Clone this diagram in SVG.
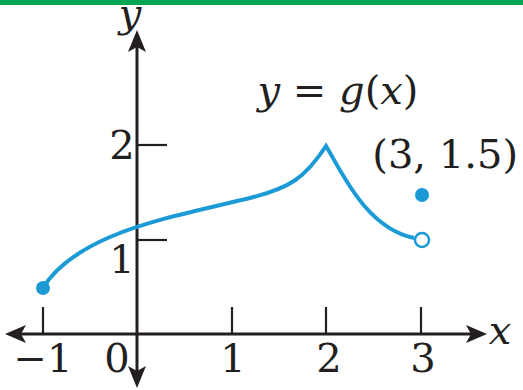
<svg xmlns="http://www.w3.org/2000/svg" width="523" height="390" viewBox="0 0 523 390">
<style>
.ax{stroke:#231f20;stroke-width:3;fill:none}
.tk{stroke:#231f20;stroke-width:2.2;fill:none}
.t{font-family:"DejaVu Serif","Liberation Serif",serif;font-size:40px;fill:#231f20}
.i{font-style:italic}
.c{stroke:#1b9ad6;stroke-width:4;fill:none;stroke-linejoin:miter}
</style>
<rect x="0" y="0" width="523" height="390" fill="#fff"/>
<rect x="0" y="0" width="523" height="5" fill="#00a651"/>
<g id="axes">
<line class="ax" x1="12" y1="334" x2="478" y2="334"/>
<line class="ax" x1="137" y1="38" x2="137" y2="380"/>
<path d="M487,334 L466,325 L471,334 L466,343 Z" fill="#231f20"/>
<path d="M5,334 L26,325 L21,334 L26,343 Z" fill="#231f20"/>
<path d="M137,30 L128,52 L137,47 L146,52 Z" fill="#231f20"/>
<path d="M137,388 L128,366 L137,371 L146,366 Z" fill="#231f20"/>
<line class="tk" x1="43" y1="307" x2="43" y2="334"/>
<line class="tk" x1="232" y1="307" x2="232" y2="334"/>
<line class="tk" x1="326" y1="307" x2="326" y2="334"/>
<line class="tk" x1="421" y1="307" x2="421" y2="334"/>
<line class="tk" x1="137" y1="145" x2="167" y2="145"/>
<line class="tk" x1="137" y1="240" x2="167" y2="240"/>
</g>
<g id="labels">
<text class="t" x="43" y="372" text-anchor="middle">−1</text>
<text class="t" x="117" y="372" text-anchor="middle">0</text>
<text class="t" x="233" y="372" text-anchor="middle">1</text>
<text class="t" x="329" y="372" text-anchor="middle">2</text>
<text class="t" x="423" y="372" text-anchor="middle">3</text>
<text class="t" x="122" y="159" text-anchor="middle">2</text>
<text class="t" x="122" y="273" text-anchor="middle">1</text>
<text class="t i" x="500" y="344" text-anchor="middle">x</text>
<text class="t i" x="130" y="27" text-anchor="middle" font-size="28">y</text>
<text class="t" x="338" y="104" text-anchor="middle"><tspan class="i">y</tspan> = <tspan class="i">g</tspan>(<tspan class="i">x</tspan>)</text>
<text class="t" x="518" y="168" text-anchor="end" font-size="37">(3, 1.5)</text>
</g>
<g id="curve">
<path class="c" d="M43,288 C55,268 80,250 110,237 C150,220 200,210 250,198 C290,188 305,178 326,146 C342,172 366,228 414,238"/>
<circle cx="43" cy="288" r="7" fill="#1b9ad6"/>
<circle cx="422" cy="195" r="7" fill="#1b9ad6"/>
<circle cx="422" cy="240" r="7" fill="#fff" stroke="#1b9ad6" stroke-width="2.5"/>
</g>
</svg>
